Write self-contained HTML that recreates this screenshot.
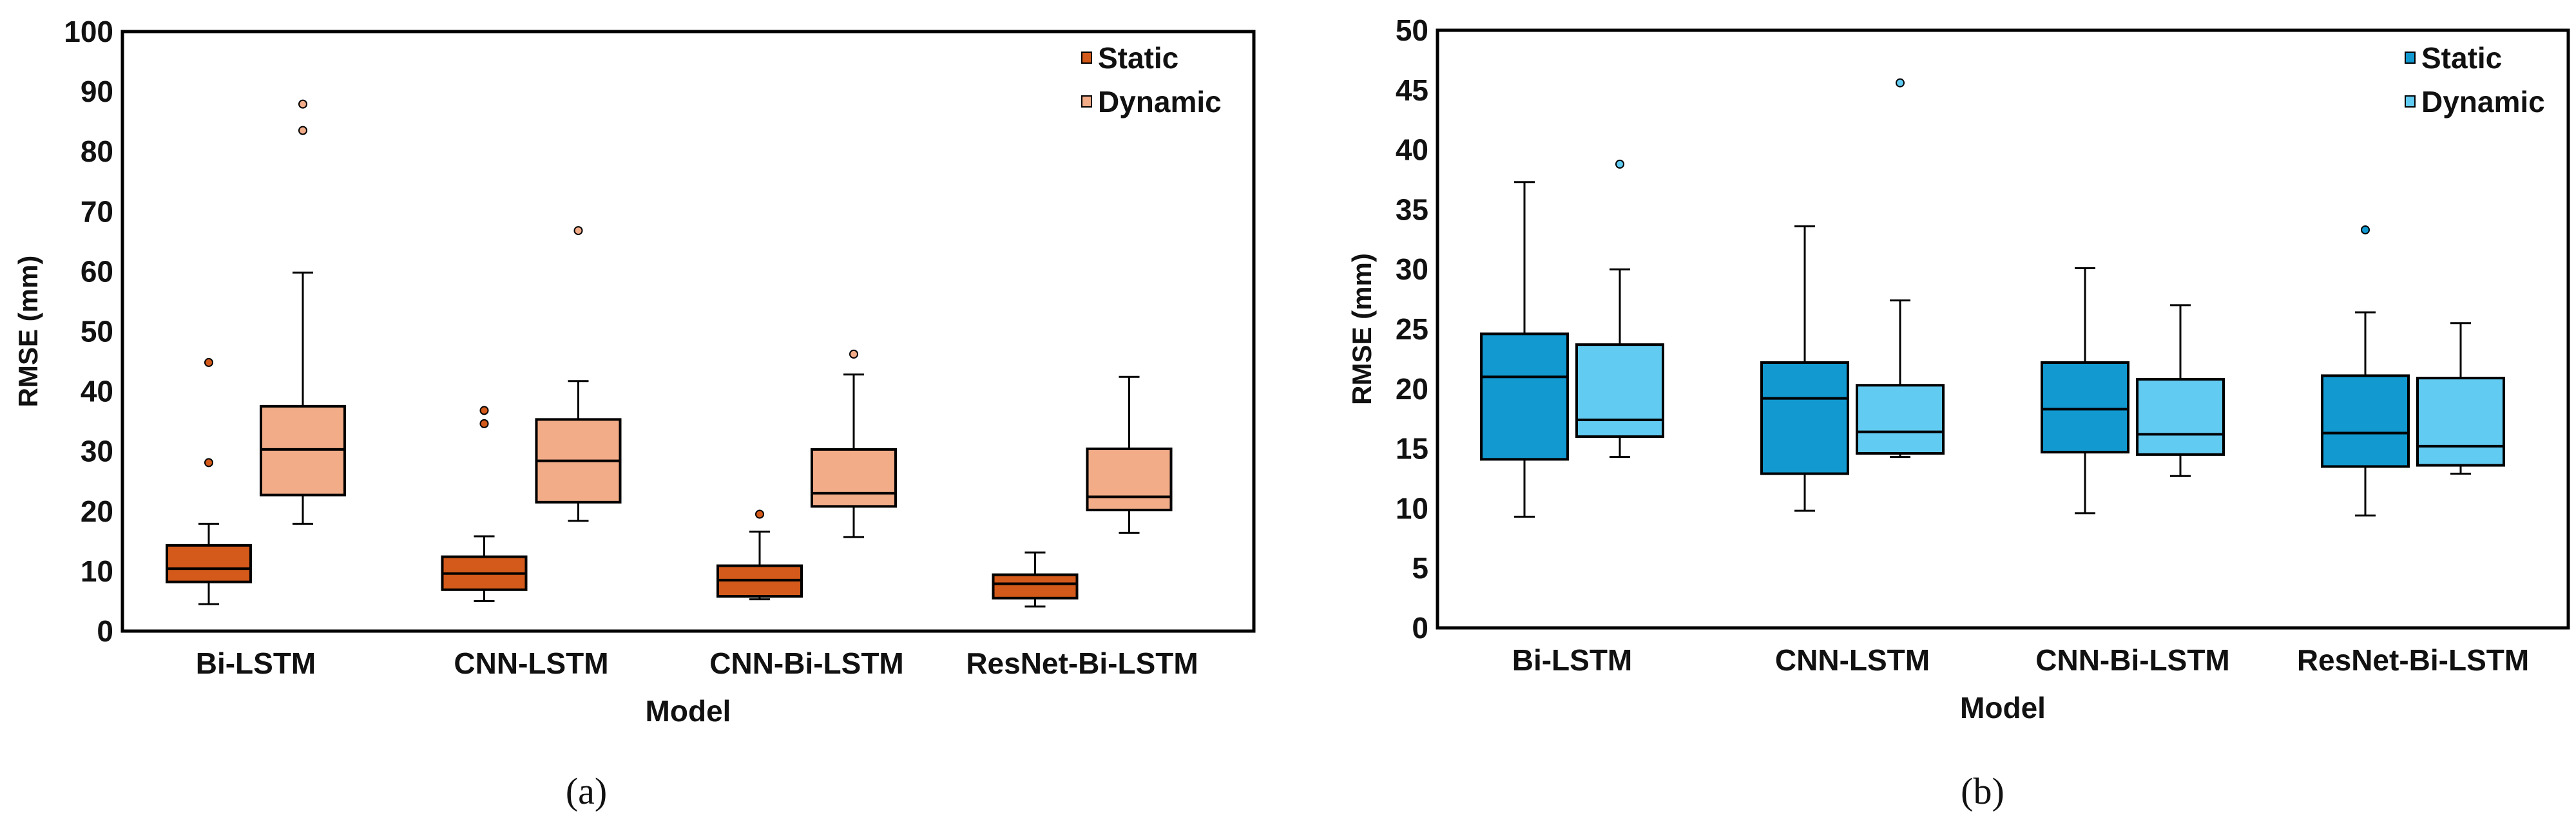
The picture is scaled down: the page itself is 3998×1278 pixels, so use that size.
<!DOCTYPE html>
<html><head><meta charset="utf-8"><style>
html,body{margin:0;padding:0;background:#fff;}
svg{display:block;font-family:"Liberation Sans",sans-serif;}
</style></head><body>
<svg id="c" width="3998" height="1278" viewBox="0 0 3998 1278" xmlns="http://www.w3.org/2000/svg"></svg>
<script>
const categories = ["Bi-LSTM","CNN-LSTM","CNN-Bi-LSTM","ResNet-Bi-LSTM"];
// [low, q1, median, q3, high]
const aStatic = [[4.5,8.2,10.4,14.3,17.9],[5.0,6.9,9.6,12.4,15.8],[5.3,5.8,8.5,10.9,16.6],[4.1,5.5,7.9,9.4,13.1]];
const aDynamic = [[17.9,22.7,30.3,37.5,59.8],[18.4,21.5,28.4,35.3,41.7],[15.7,20.8,23.0,30.3,42.8],[16.4,20.2,22.4,30.4,42.4]];
const aStaticOut = [[44.8,28.1],[36.8,34.6],[19.5],[]];
const aDynamicOut = [[87.9,83.5],[66.8],[46.2],[]];
const bStatic = [[9.3,14.1,21.0,24.6,37.3],[9.8,12.9,19.2,22.2,33.6],[9.6,14.7,18.3,22.2,30.1],[9.4,13.5,16.3,21.1,26.4]];
const bDynamic = [[14.3,16.0,17.4,23.7,30.0],[14.3,14.6,16.4,20.3,27.4],[12.7,14.5,16.2,20.8,27.0],[12.9,13.6,15.2,20.9,25.5]];
const bStaticOut = [[],[],[],[33.3]];
const bDynamicOut = [[38.8],[45.6],[],[]];
const aTicks = [0,10,20,30,40,50,60,70,80,90,100];
const bTicks = [0,5,10,15,20,25,30,35,40,45,50];

const NS="http://www.w3.org/2000/svg";
const svg=document.getElementById('c');
function mk(tag,attrs,parent){const e=document.createElementNS(NS,tag);for(const k in attrs)e.setAttribute(k,attrs[k]);(parent||svg).appendChild(e);return e;}

function panel(p){
  const g=mk('g',{});
  
  
  const y=v=>p.bottom-(v-p.min)/(p.max-p.min)*(p.bottom-p.top);
  const xc=i=>p.x0+i*p.step;
  // ticks
  p.ticks.forEach(t=>{
    const tx=mk('text',{x:p.left-14,y:y(t)+16,'text-anchor':'end','font-size':46,'font-weight':'bold',fill:'#111'},g);
    tx.textContent=t;
    
    
  });
  // boxes
  const series=[[p.s,p.sOut,p.c1,-p.off],[p.d,p.dOut,p.c2,p.off]];
  categories.forEach((cat,i)=>{
    series.forEach(([data,outs,col,off],si)=>{
      const cx=xc(i)+off, w=p.bw, d=data[i];
      const bg=mk('g',{},g);
      
      
      mk('line',{x1:cx,x2:cx,y1:y(d[0]),y2:y(d[1]),stroke:'#000','stroke-width':3},bg);
      mk('line',{x1:cx,x2:cx,y1:y(d[3]),y2:y(d[4]),stroke:'#000','stroke-width':3},bg);
      mk('line',{x1:cx-16,x2:cx+16,y1:y(d[0]),y2:y(d[0]),stroke:'#000','stroke-width':3},bg);
      mk('line',{x1:cx-16,x2:cx+16,y1:y(d[4]),y2:y(d[4]),stroke:'#000','stroke-width':3},bg);
      mk('rect',{x:cx-w/2,y:y(d[3]),width:w,height:y(d[1])-y(d[3]),fill:col,stroke:'#000','stroke-width':4},bg);
      mk('line',{x1:cx-w/2,x2:cx+w/2,y1:y(d[2]),y2:y(d[2]),stroke:'#000','stroke-width':4},bg);
      outs[i].forEach(v=>{
        const o=mk('circle',{cx:cx,cy:y(v),r:6,fill:col,stroke:'#000','stroke-width':2},bg);
        
        
      });
    });
    const lb=mk('text',{x:xc(i),y:p.bottom+66,'text-anchor':'middle','font-size':46,'font-weight':'bold',fill:'#111'},g);
    lb.textContent=cat;
    
    
  });
  const fr=mk('rect',{x:p.left,y:p.top,width:p.right-p.left,height:p.bottom-p.top,fill:'none',stroke:'#000','stroke-width':5},g);
  
  
  const xt=mk('text',{x:(p.left+p.right)/2,y:p.bottom+140,'text-anchor':'middle','font-size':46,'font-weight':'bold',fill:'#111'},g);
  xt.textContent='Model';
  
  
  const yt=mk('text',{x:0,y:0,transform:`translate(${p.ytx},${(p.top+p.bottom)/2}) rotate(-90)`,'text-anchor':'middle','font-size':42,'font-weight':'bold',fill:'#111'},g);
  yt.textContent='RMSE (mm)';
  
  
  [['Static',p.c1,90],['Dynamic',p.c2,158]].forEach(([t,col,cy])=>{
    const le=mk('g',{},g);
    
    
    mk('rect',{x:p.legx,y:cy-9,width:15,height:17,fill:col,stroke:'#000','stroke-width':2},le);
    const tt=mk('text',{x:p.legx+25,y:cy+16,'font-size':46,'font-weight':'bold',fill:'#111'},le);
    tt.textContent=t;
  });
  const cap=mk('text',{x:p.capx,y:1248,'text-anchor':'middle','font-size':58,'font-family':'"Liberation Serif",serif',fill:'#111'},g);
  cap.textContent=p.cap;
  
  
}
panel({id:'a',left:190,right:1946,top:49,bottom:980,min:0,max:100,ticks:aTicks,x0:397,step:427.5,off:73,bw:130,
  s:aStatic,d:aDynamic,sOut:aStaticOut,dOut:aDynamicOut,c1:'#D35A1A',c2:'#F2AC88',ytx:58,legx:1679,capx:910,cap:'(a)'});
panel({id:'b',left:2231,right:3986,top:47,bottom:975,min:0,max:50,ticks:bTicks,x0:2440,step:435,off:74,bw:134,
  s:bStatic,d:bDynamic,sOut:bStaticOut,dOut:bDynamicOut,c1:'#1199D0',c2:'#62CBF2',ytx:2128,legx:3733,capx:3077,cap:'(b)'});
</script>
</body></html>
